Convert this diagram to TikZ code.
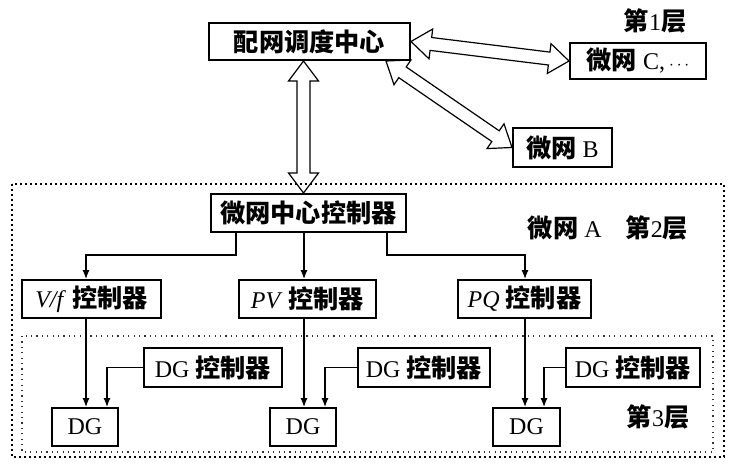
\documentclass[tikz,border=0pt]{standalone}
\usepackage{fontspec}
\setmainfont{Liberation Serif}
\newfontfamily\cjk[Scale=1.05]{Noto Sans CJK SC}
\usetikzlibrary{calc,arrows.meta,backgrounds}
\newcommand{\zh}[1]{{\cjk\bfseries #1}}
\newcommand{\dblarr}[2]{%
 \draw[hollow] (#1)
 -- ($ ($(#1)!20pt!(#2)$) !15pt!90:(#2) $)
 -- ($ ($(#1)!20pt!(#2)$) !6.5pt!90:(#2) $)
 -- ($ ($(#2)!20pt!(#1)$) !6.5pt!-90:(#1) $)
 -- ($ ($(#2)!20pt!(#1)$) !15pt!-90:(#1) $)
 -- (#2)
 -- ($ ($(#2)!20pt!(#1)$) !15pt!90:(#1) $)
 -- ($ ($(#2)!20pt!(#1)$) !6.5pt!90:(#1) $)
 -- ($ ($(#1)!20pt!(#2)$) !6.5pt!-90:(#2) $)
 -- ($ ($(#1)!20pt!(#2)$) !15pt!-90:(#2) $)
 -- cycle;}
\begin{document}
\begin{tikzpicture}[x=1pt,y=-1pt,
 box/.style={draw,line width=2pt,fill=white,inner sep=0pt,align=center,font=\fontsize{24}{28}\selectfont},
 conn/.style={line width=1.2pt,-{Latex[length=9pt,width=7pt]}},
 hollow/.style={draw,line width=1.2pt,fill=white,line join=miter},
 lbl/.style={inner sep=0pt,font=\fontsize{24}{28}\selectfont}]
\useasboundingbox (0,0) rectangle (735,466);

% dotted frames
\draw[line width=1.6pt, dash pattern=on 1.6pt off 3.4pt] (12,184) rectangle (724,457);
\draw[line width=1.2pt, dash pattern=on 1.2pt off 4.2pt, black!80] (22,336) rectangle (713,452);

% layer 1
\node[box,minimum width=201pt,minimum height=37pt] (dc) at (309.5,41.5) {\zh{配网调度中心}};
\node[box,minimum width=136pt,minimum height=36pt] (mC) at (638,61) {\zh{微网}\ C,\,{\fontsize{18}{18}\selectfont$\cdots$}};
\node[box,minimum width=99pt,minimum height=39pt] (mB) at (562.5,147.5) {\zh{微网}\ B};
\node[lbl] (l1) at (655,21) {\zh{第}1\zh{层}};

% layer 2
\node[box,minimum width=195pt,minimum height=38pt] (mcc) at (308.5,213) {\zh{微网中心控制器}};
\node[lbl] (l2) at (608,228) {\zh{微网}\ A\quad \zh{第}2\zh{层}};
\node[box,minimum width=139pt,minimum height=38pt] (vf) at (91.5,299) {\textit{V/f}\ \zh{控制器}};
\node[box,minimum width=137pt,minimum height=38pt] (pv) at (307.5,299) {\textit{PV}\ \zh{控制器}};
\node[box,minimum width=133pt,minimum height=38pt] (pq) at (524.5,299) {\textit{PQ}\ \zh{控制器}};

% layer 3
\node[box,minimum width=138pt,minimum height=39pt] (dgc1) at (213,367.5) {DG\ \zh{控制器}};
\node[box,minimum width=132pt,minimum height=39pt] (dgc2) at (424,367.5) {DG\ \zh{控制器}};
\node[box,minimum width=134pt,minimum height=39pt] (dgc3) at (633,367.5) {DG\ \zh{控制器}};
\node[box,minimum width=66pt,minimum height=38pt] (dg1) at (85,427) {DG};
\node[box,minimum width=66pt,minimum height=38pt] (dg2) at (303,427) {DG};
\node[box,minimum width=67pt,minimum height=38pt] (dg3) at (526.5,427) {DG};
\node[lbl] (l3) at (658,417) {\zh{第}3\zh{层}};

% column coordinates
\coordinate (k1) at (86,0);
\coordinate (k1b) at (107,0);
\coordinate (k2) at (304,0);
\coordinate (k2b) at (325,0);
\coordinate (k3) at (525,0);
\coordinate (k3b) at (544,0);
\coordinate (b1) at (236,0);
\coordinate (b3) at (387,0);
\coordinate (bus) at (0,255);

% connectors
\draw[conn] (mcc.south -| b1) |- (bus -| k1) -- (vf.north -| k1);
\draw[conn] (mcc.south -| k2) -- (pv.north -| k2);
\draw[conn] (mcc.south -| b3) |- (bus -| k3) -- (pq.north -| k3);
\draw[conn] (vf.south -| k1) -- (dg1.north -| k1);
\draw[conn] (pv.south -| k2) -- (dg2.north -| k2);
\draw[conn] (pq.south -| k3) -- (dg3.north -| k3);
\draw[conn] (dgc1.west) -| (dg1.north -| k1b);
\draw[conn] (dgc2.west) -| (dg2.north -| k2b);
\draw[conn] (dgc3.west) -| (dg3.north -| k3b);

% hollow double arrows
\coordinate (t0) at ([xshift=-6pt]dc.south);
\coordinate (t1) at ([xshift=-5pt]mcc.north);
\coordinate (t2) at ([xshift=-25pt]dc.south east);
\begin{pgfonlayer}{background}
\dblarr{t0}{t1}
\dblarr{dc.east}{mC.west}
\dblarr{t2}{mB.west}
\end{pgfonlayer}
\end{tikzpicture}
\end{document}
